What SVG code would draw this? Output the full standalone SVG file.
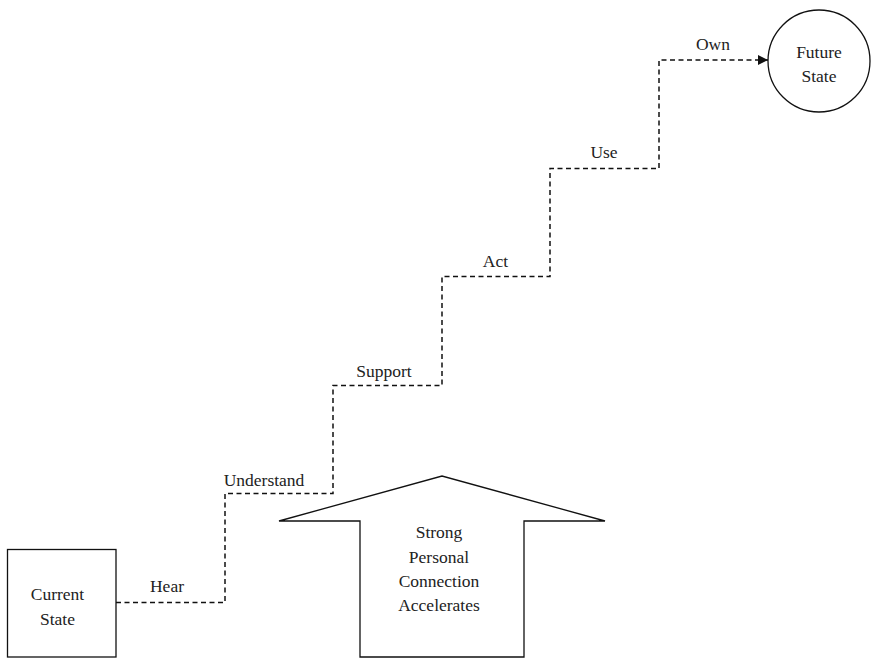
<svg xmlns="http://www.w3.org/2000/svg" width="876" height="658" viewBox="0 0 876 658">
<style>
text{font-family:"Liberation Serif","Times New Roman",serif;font-size:17.5px;fill:#222;text-anchor:middle}
.shape{fill:#fff;stroke:#111;stroke-width:1.3}
.conn{fill:none;stroke:#111;stroke-width:1.5;stroke-dasharray:5 3.5}
</style>
<defs>
<marker id="ah" markerWidth="10" markerHeight="10" refX="10" refY="5" orient="auto" markerUnits="userSpaceOnUse">
<path d="M0,0 L10,5 L0,10 Z" fill="#111"/>
</marker>
</defs>
<g id="current-state">
<rect class="shape" x="7.5" y="549.5" width="108.5" height="107.5"/>
<text x="57.5" y="600">Current</text>
<text x="57.5" y="625">State</text>
</g>
<g id="future-state">
<circle class="shape" cx="819" cy="61" r="51"/>
<text x="819" y="58">Future</text>
<text x="819" y="82">State</text>
</g>
<g id="accelerator">
<path class="shape" d="M279,521 L442,476 L605,521 L524,521 L524,657 L360,657 L360,521 Z"/>
<text x="439" y="538">Strong</text>
<text x="439" y="563">Personal</text>
<text x="439" y="587">Connection</text>
<text x="439" y="611">Accelerates</text>
</g>
<g id="connectors">
<path class="conn" d="M116,602.5 H225 V493.5 H333 V385.5 H442 V276.5 H550 V168.5 H659 V60 H768" marker-end="url(#ah)"/>
<text x="167" y="592">Hear</text>
<text x="264" y="486">Understand</text>
<text x="384" y="377">Support</text>
<text x="495.5" y="267">Act</text>
<text x="604" y="158">Use</text>
<text x="713" y="50">Own</text>
</g>
</svg>
